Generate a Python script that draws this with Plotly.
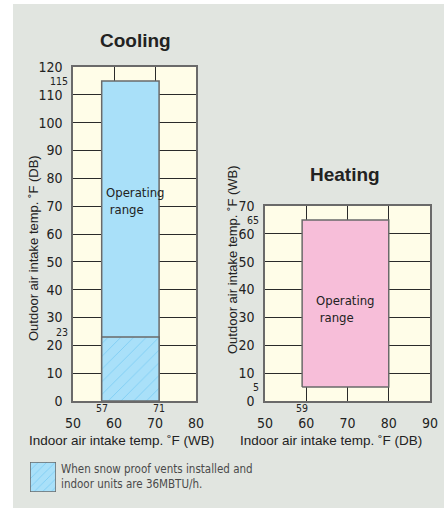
import plotly.graph_objects as go

# ---- data ----
cool_x_range = [57, 71]          # indoor WB
cool_y_range = [0, 115]          # outdoor DB
cool_snow_y = [0, 23]            # hatched region (snow proof vents)
cool_xticks = [50, 60, 70, 80]
cool_yticks = [0, 10, 20, 30, 40, 50, 60, 70, 80, 90, 100, 110, 120]

heat_x_range = [59, 80]          # indoor DB
heat_y_range = [5, 65]           # outdoor WB
heat_xticks = [50, 60, 70, 80, 90]
heat_yticks = [0, 10, 20, 30, 40, 50, 60, 70]

W, H = 444, 508
BG = "#E1E5E0"
CREAM = "#FFFDE8"
BLUE = "#A9E0F9"
HATCH = "#55BBEE"
PINK = "#F7BED9"
EDGE = "#6A6A6A"
GRID = "#2A2A2A"
TXT = "#222222"
FONT = "Liberation Sans Narrow, DejaVu Sans Condensed, Liberation Sans, sans-serif"
FONT2 = "Liberation Sans, Arial, sans-serif"


def px_x(v):
    return v / W


def px_y(v):
    return 1 - v / H


def rect(xr, yr):
    return [xr[0], xr[1], xr[1], xr[0], xr[0]], [yr[0], yr[0], yr[1], yr[1], yr[0]]


fig = go.Figure()

# Cooling operating range
xs, ys = rect(cool_x_range, cool_y_range)
fig.add_trace(go.Scatter(x=xs, y=ys, fill="toself", fillcolor=BLUE, mode="lines",
                         line=dict(color=EDGE, width=1.5), xaxis="x", yaxis="y",
                         showlegend=False, hoverinfo="skip"))
xs, ys = rect(cool_x_range, cool_snow_y)
fig.add_trace(go.Scatter(x=xs, y=ys, fill="toself", mode="lines",
                         fillpattern=dict(shape="/", fgcolor=HATCH, bgcolor=BLUE, size=9, solidity=0.1),
                         line=dict(color=EDGE, width=1.5), xaxis="x", yaxis="y",
                         showlegend=False, hoverinfo="skip"))

# Heating operating range
xs, ys = rect(heat_x_range, heat_y_range)
fig.add_trace(go.Scatter(x=xs, y=ys, fill="toself", fillcolor=PINK, mode="lines",
                         line=dict(color=EDGE, width=1.5), xaxis="x2", yaxis="y2",
                         showlegend=False, hoverinfo="skip"))

# Legend swatch
xs, ys = rect([0, 1], [0, 1])
fig.add_trace(go.Scatter(x=xs, y=ys, fill="toself", mode="lines",
                         fillpattern=dict(shape="/", fgcolor=HATCH, bgcolor=BLUE, size=6, solidity=0.15),
                         line=dict(color=EDGE, width=1.5), xaxis="x3", yaxis="y3",
                         showlegend=False, hoverinfo="skip"))

axis_common = dict(showgrid=True, gridcolor=GRID, gridwidth=1.2, zeroline=False,
                   showline=True, mirror=True, linecolor=EDGE, linewidth=1.5,
                   ticks="", tickfont=dict(family=FONT, size=14, color=TXT), fixedrange=True,
                   automargin=False)

fig.update_layout(
    width=W, height=H, margin=dict(l=0, r=0, t=0, b=0, autoexpand=False),
    paper_bgcolor=BG, plot_bgcolor=CREAM,
    xaxis=dict(axis_common, domain=[px_x(73), px_x(196)], range=[50, 80],
               tickvals=cool_xticks, anchor="y", ticklabelstandoff=8),
    yaxis=dict(axis_common, domain=[px_y(401), px_y(67)], range=[0, 120],
               tickvals=cool_yticks, anchor="x", ticklabelstandoff=6),
    xaxis2=dict(axis_common, domain=[px_x(265), px_x(430)], range=[50, 90],
                tickvals=heat_xticks, anchor="y2", ticklabelstandoff=8),
    yaxis2=dict(axis_common, domain=[px_y(401), px_y(206)], range=[0, 70],
                tickvals=heat_yticks, anchor="x2", ticklabelstandoff=6),
    xaxis3=dict(domain=[px_x(30), px_x(56)], range=[0, 1], visible=False, anchor="y3", fixedrange=True),
    yaxis3=dict(domain=[px_y(492), px_y(462)], range=[0, 1], visible=False, anchor="x3", fixedrange=True),
    showlegend=False,
)

# white strips at top and left
fig.add_shape(type="rect", xref="paper", yref="paper", x0=0, x1=1, y0=px_y(4), y1=1,
              fillcolor="white", line_width=0)
fig.add_shape(type="rect", xref="paper", yref="paper", x0=0, x1=px_x(13), y0=0, y1=1,
              fillcolor="white", line_width=0)

C = dict(xanchor="center", yanchor="middle", showarrow=False)
ann = []
# titles
ann.append(dict(C, text="<b>Cooling</b>", x=px_x(135), y=px_y(41), xref="paper", yref="paper",
                font=dict(family=FONT2, size=19, color=TXT)))
ann.append(dict(C, text="<b>Heating</b>", x=px_x(345), y=px_y(174), xref="paper", yref="paper",
                font=dict(family=FONT2, size=19, color=TXT)))
# axis titles
ann.append(dict(C, text="Outdoor air intake temp. ˚F (DB)", x=px_x(33), y=px_y(248), xref="paper",
                yref="paper", textangle=-90, font=dict(family=FONT2, size=13, color=TXT)))
ann.append(dict(C, text="Outdoor air intake temp. ˚F (WB)", x=px_x(232), y=px_y(260), xref="paper",
                yref="paper", textangle=-90, font=dict(family=FONT2, size=13, color=TXT)))
ann.append(dict(C, text="Indoor air intake temp. ˚F (WB)", x=px_x(121), y=px_y(440), xref="paper",
                yref="paper", font=dict(family=FONT2, size=13.5, color=TXT)))
ann.append(dict(C, text="Indoor air intake temp. ˚F (DB)", x=px_x(331), y=px_y(440), xref="paper",
                yref="paper", font=dict(family=FONT2, size=13.5, color=TXT)))
# operating range labels
ann.append(dict(C, text="Operating<br> range", x=cool_x_range[0], y=72, xref="x", yref="y",
                xanchor="left", xshift=2, align="left", font=dict(family=FONT, size=13, color=TXT)))
ann.append(dict(C, text="Operating<br> range", x=(heat_x_range[0] + heat_x_range[1]) / 2, y=33,
                xref="x2", yref="y2", align="left", font=dict(family=FONT, size=13, color=TXT)))
# small value labels
small = dict(family=FONT, size=10.5, color=TXT)
ann.append(dict(C, text=str(cool_y_range[1]), x=px_x(70), y=cool_y_range[1], xref="paper", yref="y",
                xanchor="right", font=small))
ann.append(dict(C, text=str(cool_snow_y[1]), x=px_x(70), y=cool_snow_y[1], xref="paper", yref="y",
                xanchor="right", yshift=5, font=small))
ann.append(dict(C, text=str(cool_x_range[0]), x=cool_x_range[0], y=px_y(408), xref="x", yref="paper",
                font=small))
ann.append(dict(C, text=str(cool_x_range[1]), x=cool_x_range[1], y=px_y(408), xref="x", yref="paper",
                font=small))
ann.append(dict(C, text=str(heat_y_range[1]), x=px_x(261), y=heat_y_range[1], xref="paper", yref="y2",
                xanchor="right", font=small))
ann.append(dict(C, text=str(heat_y_range[0]), x=px_x(261), y=heat_y_range[0], xref="paper", yref="y2",
                xanchor="right", font=small))
ann.append(dict(C, text=str(heat_x_range[0]), x=heat_x_range[0], y=px_y(408), xref="x2", yref="paper",
                font=small))
# legend text
ann.append(dict(C, text="When snow proof vents installed and<br>indoor units are 36MBTU/h.", x=px_x(59),
                y=px_y(476), xref="paper", yref="paper", xanchor="left", align="left",
                font=dict(family=FONT, size=11.5, color="#4A4A4A")))

fig.update_layout(annotations=ann)
fig.write_html("out.html", config={"responsive": False, "displayModeBar": False},
               post_script="document.body.style.margin='0';document.body.style.overflow='hidden';")
